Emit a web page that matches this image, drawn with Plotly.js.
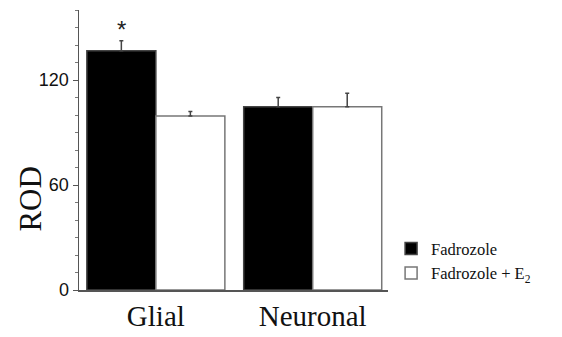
<!DOCTYPE html>
<html>
<head>
<meta charset="utf-8">
<script src="https://cdn.plot.ly/plotly-3.0.1.min.js"></script>
<style>html,body{margin:0;padding:0;background:#fff;}#chart{width:562px;height:337px;}</style>
</head>
<body>
<div id="chart"></div>
<script>
const categories = ['Glial', 'Neuronal'];
const fadrozole = [136.7, 104.7];
const fadrozoleErr = [5.7, 5.3];
const fadrozoleE2 = [99.5, 104.7];
const fadrozoleE2Err = [2.5, 7.8];
const seriesNames = ['Fadrozole', 'Fadrozole + E<sub>2</sub>'];
const yTicks = [0, 60, 120];
const yTitle = 'ROD';

const serif = 'Liberation Serif, Times New Roman, serif';
const sans = 'Liberation Sans, Arial, sans-serif';

const traces = [
  {
    type: 'bar', x: categories, y: fadrozole, name: seriesNames[0],
    marker: {color: '#000000', line: {color: '#444', width: 1.5}},
    error_y: {type: 'data', symmetric: false, array: fadrozoleErr, arrayminus: [0, 0], color: '#444', thickness: 1.5, width: 2}
  },
  {
    type: 'bar', x: categories, y: fadrozoleE2, name: seriesNames[1],
    marker: {color: '#ffffff', line: {color: '#777', width: 1.5}},
    error_y: {type: 'data', symmetric: false, array: fadrozoleE2Err, arrayminus: [0, 0], color: '#444', thickness: 1.5, width: 2}
  }
];

const layout = {
  width: 562, height: 337,
  margin: {l: 79, r: 174, t: 10, b: 47},
  paper_bgcolor: '#fff', plot_bgcolor: '#fff',
  barmode: 'group', bargap: 0.12, bargroupgap: 0,
  showlegend: true,
  legend: {x: 1.01, xanchor: 'left', y: 0.21, yanchor: 'top', font: {family: serif, size: 16.5, color: '#111'}, tracegroupgap: 0, itemwidth: 30, bgcolor: 'rgba(0,0,0,0)'},
  xaxis: {
    type: 'category', range: [-0.49, 1.48],
    showline: true, linecolor: '#555', linewidth: 1.5,
    ticks: '', showgrid: false, zeroline: false,
    tickfont: {family: serif, size: 29, color: '#111'}
  },
  yaxis: {
    range: [0, 160], showline: true, linecolor: '#555', linewidth: 1.5,
    tickvals: yTicks, ticktext: yTicks.map(String),
    ticks: 'outside', ticklen: 5, tickcolor: '#555', tickwidth: 1,
    minor: {dtick: 10, ticks: 'outside', ticklen: 3, tickcolor: '#777', tickwidth: 1},
    showgrid: false, zeroline: false,
    tickfont: {family: sans, size: 18, color: '#111'}
  },
  annotations: [
    {
      xref: 'x', yref: 'y', x: categories[0], y: fadrozole[0] + fadrozoleErr[0],
      xshift: -34, yanchor: 'bottom', yshift: -4, showarrow: false,
      text: '*', font: {family: sans, size: 24, color: '#222'}
    },
    {
      xref: 'paper', yref: 'paper', x: -0.16, y: 0.325, xanchor: 'center', yanchor: 'middle',
      textangle: -90, showarrow: false, text: yTitle,
      font: {family: serif, size: 31, color: '#111'}
    }
  ]
};

Plotly.newPlot('chart', traces, layout, {displayModeBar: false, staticPlot: true});
</script>
</body>
</html>
